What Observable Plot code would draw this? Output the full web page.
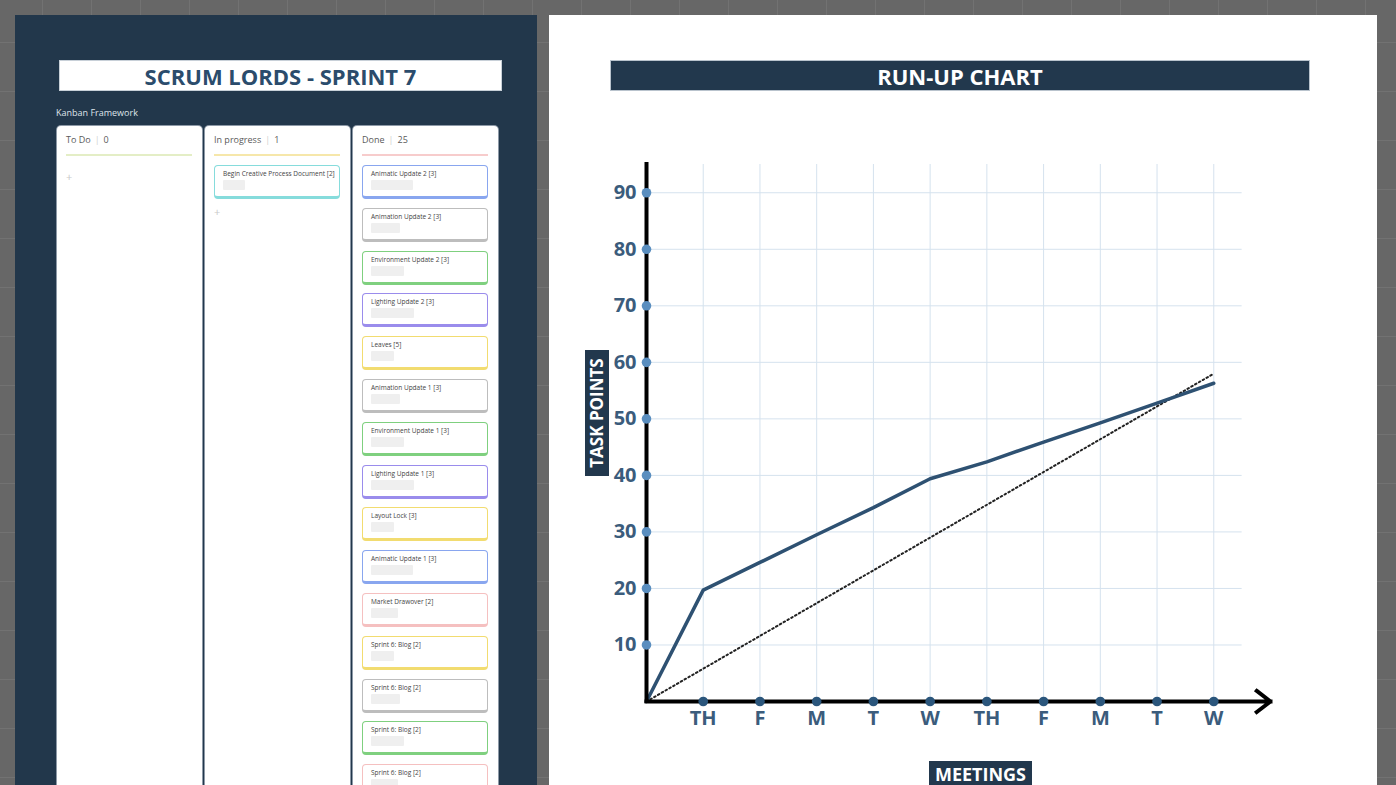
<!DOCTYPE html>
<html>
<head>
<meta charset="utf-8">
<script src="https://cdn.jsdelivr.net/npm/d3@7"></script>
<script src="https://cdn.jsdelivr.net/npm/@observablehq/plot@0.6"></script>
<style>
  html, body { margin: 0; padding: 0; }
  body {
    width: 1396px; height: 785px; overflow: hidden; position: relative;
    background-color: #676767;
    background-image:
      linear-gradient(to right, rgba(255,255,255,0.07) 1px, transparent 1px),
      linear-gradient(to bottom, rgba(255,255,255,0.07) 1px, transparent 1px);
    background-size: 49px 49px;
    background-position: 42px 42px;
    font-family: "Open Sans", sans-serif;
  }
  .abs { position: absolute; box-sizing: border-box; }
  #left { left: 15px; top: 15px; width: 522px; height: 800px; background: #22374b; }
  #right { left: 549px; top: 15px; width: 828px; height: 800px; background: #ffffff; }
  #title { left: 59px; top: 60px; width: 443px; height: 31px; background: #fff;
    color: #2b4c6c; font-weight: 700; font-size: 22px; text-align: center; line-height: 31px;
    border: 1px solid #c8d0d8; }
  #kanbanLabel { left: 56px; top: 106px; font-size: 9px; color: #dfe4ea; }
  .col { background: #fff; border-radius: 4px; width: 145px; top: 126px; height: 700px;
    box-shadow: 0 0 0 1px #8d99a7; }
  .colhead { font-size: 9px; color: #5a5a5a; white-space: nowrap; }
  .colhead .sep { color: #cfcfcf; margin: 0 4px; }
  .uline { height: 2px; width: 126px; }
  .plus { font-size: 11px; color: #c9c9c9; }
  .card { width: 126px; height: 34px; background: #fff; border-radius: 4px;
    border-style: solid; border-width: 1.5px 1.5px 3px 1.5px; }
  .card .t { position: absolute; left: 8px; top: 3px; font-size: 6.5px; color: #444; white-space: nowrap; }
  .card .ph { position: absolute; left: 8px; top: 14px; height: 10px; background: #efefef; border-radius: 1px; }
  #chartTitle { left: 610px; top: 60px; width: 700px; height: 31px; background: #22384d;
    color: #fff; font-weight: 700; font-size: 22px; text-align: center; line-height: 31px;
    border: 1px solid #b9c3cd; }
  #ylab { left: 534px; top: 401px; width: 126px; height: 24px; background: #22384d; color: #fff;
    font-weight: 700; font-size: 17px; line-height: 24px; text-align: center; transform: rotate(-90deg); }
  #xlab { left: 929px; top: 761px; width: 103px; height: 30px; background: #22384d; color: #fff;
    font-weight: 700; font-size: 18px; line-height: 26px; text-align: center; }
  #chart { left: 560px; top: 150px; }
  #chart svg { overflow: visible; }
</style>
</head>
<body>
<div id="left" class="abs"></div>
<div id="right" class="abs"></div>
<div id="title" class="abs">SCRUM LORDS - SPRINT 7</div>
<div id="kanbanLabel" class="abs">Kanban Framework</div>
<div id="kanban"></div>
<div id="chartTitle" class="abs">RUN-UP CHART</div>
<div id="ylab" class="abs">TASK POINTS</div>
<div id="xlab" class="abs">MEETINGS</div>
<div id="chart" class="abs"></div>
<script>
// ---------- Kanban data ----------
const columnNames = ["To Do", "In progress", "Done"];
const columnCounts = [0, 1, 25];
const todoTasks = [];
const inProgressTasks = ["Begin Creative Process Document [2]"];
const inProgressTags = ["teal"];
const doneTasks = [
  "Animatic Update 2 [3]", "Animation Update 2 [3]", "Environment Update 2 [3]",
  "Lighting Update 2 [3]", "Leaves [5]", "Animation Update 1 [3]",
  "Environment Update 1 [3]", "Lighting Update 1 [3]", "Layout Lock [3]",
  "Animatic Update 1 [3]", "Market Drawover [2]", "Sprint 6: Blog [2]",
  "Sprint 6: Blog [2]", "Sprint 6: Blog [2]", "Sprint 6: Blog [2]"
];
const doneTags = ["blue", "gray", "green", "purple", "yellow", "gray", "green", "purple",
  "yellow", "blue", "pink", "yellow", "gray", "green", "pink"];

// ---------- Run-up chart data ----------
const meetings = ["TH", "F", "M", "T", "W", "TH", "F", "M", "T", "W"];
const actualPoints = [0, 19.7, 24.6, 29.5, 34.3, 39.4, 42.4, 45.9, 49.3, 52.8, 56.3];
const idealStart = 0;
const idealEnd = 58;
const yTicks = [10, 20, 30, 40, 50, 60, 70, 80, 90];

// ---------- Kanban styles ----------
const tagStyle = {
  blue:   {border: "#89a6ef", ph: 42},
  gray:   {border: "#bdbdbd", ph: 29},
  green:  {border: "#7fd07f", ph: 33},
  purple: {border: "#9a8cec", ph: 43},
  yellow: {border: "#f2dc70", ph: 23},
  pink:   {border: "#f5c0c0", ph: 27},
  teal:   {border: "#86dcdc", ph: 22}
};
const underline = ["#e4eec6", "#f6e7aa", "#f7cccc"];
const colLeft = [57, 205, 353];

const kb = document.getElementById("kanban");
function el(cls, css, html) {
  const d = document.createElement("div");
  d.className = "abs " + cls;
  Object.assign(d.style, css);
  if (html !== undefined) d.innerHTML = html;
  kb.appendChild(d);
  return d;
}
const tasksByCol = [todoTasks, inProgressTasks, doneTasks];
const tagsByCol = [[], inProgressTags, doneTags];
columnNames.forEach((name, c) => {
  const L = colLeft[c];
  el("col", {left: L + "px"});
  el("colhead", {left: (L + 9) + "px", top: "133px"}, name + '<span class="sep">|</span>' + columnCounts[c]);
  el("uline", {left: (L + 9) + "px", top: "154px", background: underline[c]});
  const tasks = tasksByCol[c];
  tasks.forEach((t, i) => {
    const st = tagStyle[tagsByCol[c][i]];
    const card = el("card", {left: (L + 9) + "px", top: (165 + i * 42.8) + "px", borderColor: st.border});
    card.innerHTML = '<div class="t">' + t + '</div><div class="ph" style="width:' + st.ph + 'px"></div>';
  });
  if (c < 2) {
    const top = tasks.length ? 165 + tasks.length * 42.8 - 4 : 169;
    el("plus", {left: (L + 9) + "px", top: top + "px"}, "+");
  }
});

// ---------- Plot ----------
const actual = actualPoints.map((v, i) => ({i, v}));
const ideal = [{i: 0, v: idealStart}, {i: meetings.length, v: idealEnd}];
const xIdx = meetings.map((m, k) => k + 1);
const xMax = meetings.length + 1;
const yMax = 95;
const labelColor = "#3b5c7c";

const chart = Plot.plot({
  width: 730,
  height: 600,
  marginLeft: 86,
  marginRight: 20,
  marginTop: 14,
  marginBottom: 49,
  x: {domain: [0, xMax]},
  y: {domain: [0, yMax]},
  style: {fontFamily: "'Open Sans', sans-serif", background: "transparent", overflow: "visible"},
  marks: [
    Plot.ruleY(yTicks, {y: d => d, x1: 0, x2: meetings.length + 0.5, stroke: "#d5e2ee", strokeWidth: 1}),
    Plot.ruleX(xIdx, {x: d => d, y1: 0, y2: yMax, stroke: "#d5e2ee", strokeWidth: 1}),
    Plot.line(ideal, {x: "i", y: "v", stroke: "#222", strokeWidth: 2, strokeDasharray: "1.6,2.8"}),
    Plot.line(actual, {x: "i", y: "v", stroke: "#2e5172", strokeWidth: 3.5}),
    Plot.ruleX([0], {x: d => d, y1: 0, y2: yMax, stroke: "#000", strokeWidth: 4, strokeLinecap: "square"}),
    Plot.arrow([0], {x1: 0, y1: 0, x2: xMax, y2: 0, stroke: "#000", strokeWidth: 4, headLength: 6.5, headAngle: 75, strokeLinecap: "square"}),
    Plot.dot(yTicks, {x: 0, y: d => d, r: 4.8, fill: "#5a8ebf"}),
    Plot.dot(xIdx, {x: d => d, y: 0, r: 4.8, fill: "#2b567c"}),
    Plot.axisY(yTicks, {tickSize: 0, tickPadding: 10, fontSize: 20, fontWeight: "bold", color: labelColor, label: null}),
    Plot.axisX(xIdx, {tickSize: 0, tickPadding: 9, tickFormat: i => meetings[i - 1], fontSize: 20, fontWeight: "bold", color: labelColor, label: null})
  ]
});
document.getElementById("chart").appendChild(chart);
</script>
</body>
</html>
